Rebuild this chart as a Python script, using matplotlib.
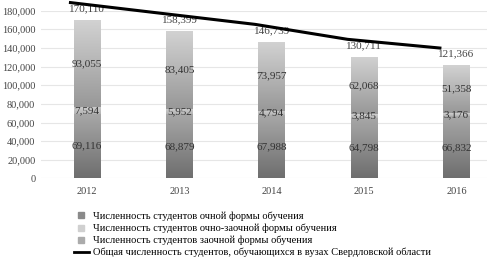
import numpy as np
import matplotlib
matplotlib.use("Agg")
import matplotlib.pyplot as plt
from matplotlib.lines import Line2D
from matplotlib.colors import LinearSegmentedColormap

years = ["2012", "2013", "2014", "2015", "2016"]
full_time = [69116, 68879, 67988, 64798, 66832]
part_time = [7594, 5952, 4794, 3845, 3176]
extramural = [93055, 83405, 73957, 62068, 51358]
totals = [170110, 158399, 146739, 130711, 121366]

labels = [
    "Численность студентов очной формы обучения",
    "Численность студентов очно-заочной формы обучения",
    "Численность студентов заочной формы обучения",
    "Общая численность студентов, обучающихся в вузах Свердловской области",
]

plt.rcParams['font.family'] = ['Liberation Serif', 'DejaVu Serif']

fig = plt.figure(figsize=(4.87, 2.59), dpi=100)
rect = [0.084, 0.311, 0.916, 0.648]
ax = fig.add_axes(rect)
x = np.arange(len(years))
w = 0.29
XL = (-0.5, 4.33)

ax.set_xlim(*XL)
ax.set_ylim(0, 180000)
ax.set_yticks(np.arange(0, 180001, 20000))
ax.set_yticklabels([f"{v:,}" for v in range(0, 180001, 20000)], fontsize=7.5, color="#444444")
ax.set_xticks(x)
ax.set_xticklabels(years, fontsize=7.5, color="#444444")
ax.tick_params(length=0, pad=4)
ax.tick_params(axis='x', pad=6)
for s in ax.spines.values():
    s.set_visible(False)
ax.grid(axis='y', color="#e6e6e6", lw=0.8)
ax.set_axisbelow(True)

grads = [
    ("#6e6e6e", "#a8a8a8"),  # full-time bottom->top
    ("#b4b4b4", "#cfcfcf"),  # part-time
    ("#989898", "#d2d2d2"),  # extramural
]
series = [full_time, part_time, extramural]
bottom = np.zeros(len(years))
grad = np.linspace(0, 1, 256).reshape(-1, 1)
for vals, (c0, c1) in zip(series, grads):
    cmap = LinearSegmentedColormap.from_list("g", [c0, c1])
    bars = ax.bar(x, vals, w, bottom=bottom, color="none", edgecolor="none", zorder=2)
    for b, xi, bt, v in zip(bars, x, bottom, vals):
        im = ax.imshow(grad, extent=[xi - w / 2, xi + w / 2, bt, bt + v], origin='lower',
                       cmap=cmap, aspect='auto', zorder=2, interpolation='bilinear')
        im.set_clip_path(b)
        ax.text(xi, bt + v / 2, f"{v:,}", ha='center', va='center', fontsize=8, color="#333333", zorder=4)
    bottom = bottom + np.array(vals)

for xi, t in zip(x, totals):
    ax.annotate(f"{t:,}", (xi, t), xytext=(0, 8), textcoords='offset points',
                ha='center', va='center', fontsize=8, color="#444444", zorder=6,
                annotation_clip=False)

ax.set_xlim(*XL)
ax.set_ylim(0, 180000)

# total line drawn on a secondary (hidden) axis, offset as in the original
ax2 = fig.add_axes(rect, sharex=None)
ax2.patch.set_visible(False)
ax2.axis('off')
ax2.set_xlim(XL[0] + 0.18, XL[1] + 0.18)
ax2.set_ylim(-18500, 161500)
ax2.plot(x, totals, color="black", lw=2.2, clip_on=False, zorder=5)

handles = [
    Line2D([], [], marker='s', ls='none', markersize=5, color="#8a8a8a"),
    Line2D([], [], marker='s', ls='none', markersize=5, color="#d0d0d0"),
    Line2D([], [], marker='s', ls='none', markersize=5, color="#ababab"),
    Line2D([], [], color="black", lw=2),
]
fig.legend(handles, labels, loc='upper left', bbox_to_anchor=(0.152, 0.183),
           frameon=False, fontsize=7.5, handlelength=1.4, handletextpad=0.4,
           labelspacing=0.25, borderpad=0, borderaxespad=0)

fig.savefig("out.png", dpi=100)
